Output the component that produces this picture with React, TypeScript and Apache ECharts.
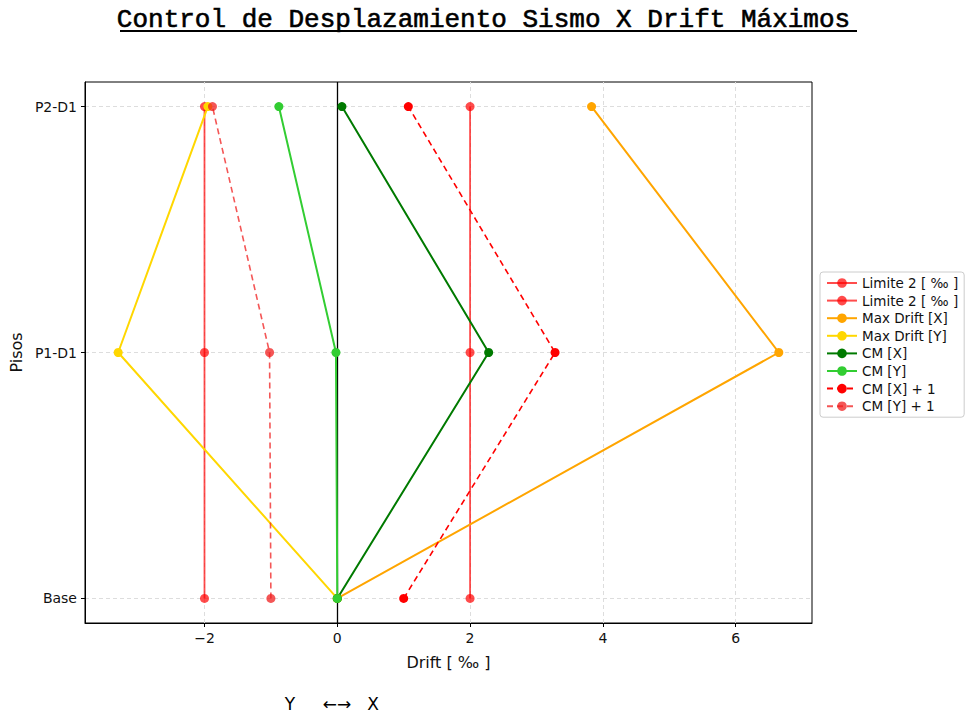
import React, { useEffect, useRef } from "react";
import * as echarts from "echarts";

// Storey labels (bottom to top) and their positions on the vertical axis
const floors = ["Base", "P1-D1", "P2-D1"];
const floorLevels = [0, 1, 2];

// Drift values per storey, in ‰
const limitRight = [2, 2, 2];
const limitLeft = [-2, -2, -2];
const maxDriftX = [0, 6.65, 3.83];
const maxDriftY = [0, -3.3, -1.95];
const cmX = [0, 2.28, 0.07];
const cmY = [0, -0.02, -0.88];
const cmXPlus1 = [1.0, 3.28, 1.07];
const cmYPlus1 = [-1.0, -1.02, -1.88];

// Tick values on the drift axis
const driftTicks = [-2, 0, 2, 4, 6];

const FONT = "DejaVu Sans";

const pairs = (xs: number[]) => xs.map((x, i) => [x, floorLevels[i]]);

type SeriesDef = {
  name: string;
  values: number[];
  color: string;
  dashed?: boolean;
  width?: number;
};

const seriesDefs: SeriesDef[] = [
  { name: "Limite 2 [ ‰ ]", values: limitRight, color: "rgba(255,0,0,0.7)", width: 1.8 },
  { name: "Limite 2 [ ‰ ]\u200B", values: limitLeft, color: "rgba(255,0,0,0.7)", width: 1.8 },
  { name: "Max Drift [X]", values: maxDriftX, color: "#FFA500" },
  { name: "Max Drift [Y]", values: maxDriftY, color: "#FFD700" },
  { name: "CM [X]", values: cmX, color: "#007A00" },
  { name: "CM [Y]", values: cmY, color: "#32CD32" },
  { name: "CM [X] + 1", values: cmXPlus1, color: "#FF0000", dashed: true, width: 1.6 },
  { name: "CM [Y] + 1", values: cmYPlus1, color: "rgba(240,30,30,0.75)", dashed: true, width: 1.6 },
];

export default function App() {
  const ref = useRef<HTMLDivElement>(null);

  useEffect(() => {
    if (!ref.current) return;
    const chart = echarts.init(ref.current, undefined, { renderer: "svg" });

    const gridLine = { color: "#dddddd", width: 1, type: [4, 3] as any };

    const option: any = {
      animation: false,
      backgroundColor: "#ffffff",
      textStyle: { fontFamily: FONT },
      grid: {
        left: 82,
        right: 155,
        top: 82,
        bottom: 92,
        show: true,
        borderColor: "#000",
        borderWidth: 1,
        backgroundColor: "transparent",
      },
      legend: {
        orient: "vertical",
        left: 820,
        top: 272,
        data: seriesDefs.map((s) => s.name),
        formatter: (n: string) => n.replace("\u200B", ""),
        itemWidth: 30,
        itemHeight: 12,
        itemGap: 3.6,
        padding: [4, 6, 4, 6],
        borderColor: "#cccccc",
        borderWidth: 1,
        borderRadius: 3,
        backgroundColor: "#ffffff",
        textStyle: { fontFamily: FONT, fontSize: 13.5, color: "#111" },
      },
      xAxis: {
        type: "value",
        min: -3.8,
        max: 7.15,
        name: "Drift [ ‰ ]",
        nameLocation: "middle",
        nameGap: 31,
        nameTextStyle: { fontFamily: FONT, fontSize: 16, color: "#111" },
        axisLine: { show: true, onZero: false, lineStyle: { color: "#000" } },
        axisTick: { show: true, length: 4, customValues: driftTicks, lineStyle: { color: "#000" } },
        axisLabel: {
          customValues: driftTicks,
          margin: 8,
          fontFamily: FONT,
          fontSize: 14,
          color: "#111",
          formatter: (v: number) => (v < 0 ? "\u2212" + Math.abs(v) : String(v)),
        },
        splitLine: { show: false },
      },
      yAxis: {
        type: "value",
        min: -0.1,
        max: 2.1,
        name: "Pisos",
        nameLocation: "middle",
        nameGap: 57,
        nameTextStyle: { fontFamily: FONT, fontSize: 16, color: "#111" },
        axisLine: { show: true, onZero: false, lineStyle: { color: "#000" } },
        axisTick: { show: true, length: 4, customValues: floorLevels, lineStyle: { color: "#000" } },
        axisLabel: {
          customValues: floorLevels,
          margin: 8,
          fontFamily: FONT,
          fontSize: 14,
          color: "#111",
          formatter: (v: number) => floors[Math.round(v)] ?? "",
        },
        splitLine: { show: false },
      },
      series: [
        // Dashed reference grid plus the solid zero line, kept beneath the data
        {
          type: "line",
          name: "__grid",
          data: [],
          silent: true,
          z: 0,
          markLine: {
            silent: true,
            symbol: "none",
            z: 0,
            label: { show: false },
            data: [
              ...driftTicks.map((x) => ({ xAxis: x, lineStyle: gridLine })),
              ...floorLevels.map((y) => ({ yAxis: y, lineStyle: gridLine })),
              { xAxis: 0, lineStyle: { color: "#000", width: 1.3, type: "solid" } },
            ],
          },
        },
        ...seriesDefs.map((s) => ({
          type: "line",
          name: s.name,
          data: pairs(s.values),
          symbol: "circle",
          symbolSize: 9,
          z: 3,
          color: s.color,
          itemStyle: { color: s.color },
          lineStyle: {
            color: s.color,
            width: s.width ?? 2,
            type: s.dashed ? [6, 4] : "solid",
          },
        })),
      ],
      graphic: [
        {
          type: "text",
          left: "center",
          top: 7,
          style: {
            text: "Control de Desplazamiento Sismo X Drift Máximos",
            font: "26px 'Liberation Mono'",
            fill: "#000",
            stroke: "#000",
            lineWidth: 0.6,
          },
        },
        {
          type: "line",
          shape: { x1: 120, y1: 31, x2: 857, y2: 31 },
          style: { stroke: "#000", lineWidth: 2 },
        },
        {
          type: "text",
          x: 290,
          y: 704,
          style: { text: "Y", font: "17px 'DejaVu Sans'", fill: "#000", textAlign: "center", textVerticalAlign: "middle" },
        },
        {
          type: "text",
          x: 337,
          y: 704,
          style: { text: "←→", font: "17px 'DejaVu Sans'", fill: "#000", textAlign: "center", textVerticalAlign: "middle" },
        },
        {
          type: "text",
          x: 373,
          y: 704,
          style: { text: "X", font: "17px 'DejaVu Sans'", fill: "#000", textAlign: "center", textVerticalAlign: "middle" },
        },
      ],
    };

    chart.setOption(option);
    return () => chart.dispose();
  }, []);

  return <div ref={ref} style={{ width: 967, height: 715, position: "absolute", left: 0, top: 0 }} />;
}
